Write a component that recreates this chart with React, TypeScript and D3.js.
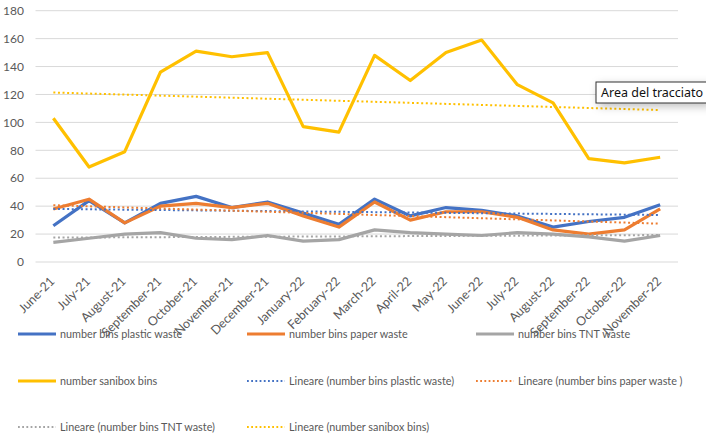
import React from "react";
import * as d3 from "d3";

const months = [
  "June-21", "July-21", "August-21", "September-21", "October-21", "November-21",
  "December-21", "January-22", "February-22", "March-22", "April-22", "May-22",
  "June-22", "July-22", "August-22", "September-22", "October-22", "November-22",
];
const plastic = [26, 44, 28, 42, 47, 39, 43, 35, 27, 45, 33, 39, 37, 33, 25, 29, 32, 41];
const paper = [38, 45, 28, 40, 42, 39, 42, 33, 25, 43, 30, 36, 36, 32, 23, 20, 23, 38];
const tnt = [14, 17, 20, 21, 17, 16, 19, 15, 16, 23, 21, 20, 19, 21, 20, 18, 15, 19];
const sanibox = [103, 68, 79, 136, 151, 147, 150, 97, 93, 148, 130, 150, 159, 127, 114, 74, 71, 75];
const yTicks = [0, 20, 40, 60, 80, 100, 120, 140, 160, 180];

const seriesNames = [
  "number bins plastic waste",
  "number bins paper waste",
  "number bins TNT waste",
  "number sanibox bins",
];
const trendNames = [
  "Lineare (number bins plastic waste)",
  "Lineare (number bins paper waste )",
  "Lineare (number bins TNT waste)",
  "Lineare (number sanibox bins)",
];
const colors = ["#4472C4", "#ED7D31", "#A5A5A5", "#FFC000"];

function linreg(vals: number[]) {
  const n = vals.length;
  const xs = vals.map((_, i) => i + 1);
  const mx = d3.mean(xs)!;
  const my = d3.mean(vals)!;
  let num = 0, den = 0;
  xs.forEach((x, i) => {
    num += (x - mx) * (vals[i] - my);
    den += (x - mx) * (x - mx);
  });
  const b = num / den;
  const a = my - b * mx;
  return [a + b * 1, a + b * n];
}

export default function App() {
  const W = 706, H = 440;
  const left = 35.5, right = 678;
  const x = d3.scaleBand<string>().domain(months).range([left, right]);
  const cx = (m: string) => x(m)! + x.bandwidth() / 2;
  const y = d3.scaleLinear().domain([0, 180]).range([262, 10.7]);
  const all = [plastic, paper, tnt, sanibox];
  const line = d3
    .line<number>()
    .x((_, i) => cx(months[i]))
    .y((d) => y(d));
  const font = "Lato, 'Open Sans', sans-serif";
  const textColor = "#595959";

  const legendItems = [
    { name: seriesNames[0], color: colors[0], dotted: false },
    { name: seriesNames[1], color: colors[1], dotted: false },
    { name: seriesNames[2], color: colors[2], dotted: false },
    { name: seriesNames[3], color: colors[3], dotted: false },
    { name: trendNames[0], color: colors[0], dotted: true },
    { name: trendNames[1], color: colors[1], dotted: true },
    { name: trendNames[2], color: colors[2], dotted: true },
    { name: trendNames[3], color: colors[3], dotted: true },
  ];
  const legX = [18, 247, 476];
  const legY = [334, 381, 427];

  return (
    <svg
      width={W}
      height={H}
      style={{ position: "absolute", left: 0, top: 0, background: "#fff" }}
      fontFamily={font}
    >
      <defs>
        <filter id="sh" x="-20%" y="-40%" width="160%" height="220%">
          <feDropShadow dx="3" dy="3" stdDeviation="4" floodColor="#000" floodOpacity="0.25" />
        </filter>
      </defs>
      {yTicks.map((t) => (
        <g key={t}>
          <line x1={left} x2={right} y1={y(t)} y2={y(t)} stroke="#D9D9D9" strokeWidth={1} />
          <text x={24} y={y(t)} dy="0.35em" textAnchor="end" fontSize={12} fill={textColor}>
            {t}
          </text>
        </g>
      ))}
      {months.map((m) => (
        <text
          key={m}
          transform={`translate(${cx(m) + 2},${282}) rotate(-45)`}
          textAnchor="end"
          fontSize={12.5}
          fill={textColor}
        >
          {m}
        </text>
      ))}
      {all.map((s, i) => (
        <path key={i} d={line(s)!} fill="none" stroke={colors[i]} strokeWidth={3.2} strokeLinejoin="round" />
      ))}
      {all.map((s, i) => {
        const [a, b] = linreg(s);
        return (
          <line
            key={i}
            x1={cx(months[0])}
            x2={cx(months[months.length - 1])}
            y1={y(a)}
            y2={y(b)}
            stroke={colors[i]}
            strokeWidth={2}
            strokeDasharray="2 2.6"
          />
        );
      })}
      {legendItems.map((it, i) => {
        const lx = legX[i % 3];
        const ly = legY[Math.floor(i / 3)];
        return (
          <g key={i}>
            <line
              x1={lx}
              x2={lx + 38}
              y1={ly}
              y2={ly}
              stroke={it.color}
              strokeWidth={it.dotted ? 1.8 : 3.2}
              strokeDasharray={it.dotted ? "1.8 2.4" : undefined}
            />
            <text x={lx + 42} y={ly} dy="0.35em" fontSize={10.8} fill={textColor}>
              {it.name}
            </text>
          </g>
        );
      })}
      <g filter="url(#sh)">
        <rect x={596} y={82} width={112} height={21} fill="#fff" stroke="#333" strokeWidth={1} />
      </g>
      <text x={601} y={92.5} dy="0.35em" fontSize={12.5} fill="#111" fontFamily="'Noto Sans', 'Open Sans', sans-serif">
        Area del tracciato
      </text>
    </svg>
  );
}
